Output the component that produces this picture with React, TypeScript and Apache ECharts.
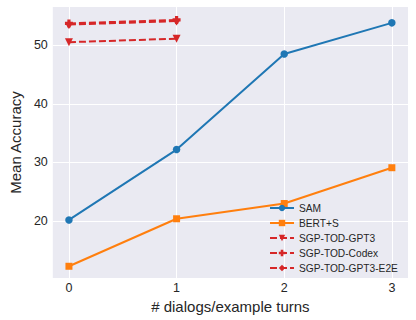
import React, { useEffect, useRef } from "react";
import * as echarts from "echarts";

const xTicks = [0, 1, 2, 3];
const yTicks = [20, 30, 40, 50];
const samX = [0, 1, 2, 3];
const samY = [20.2, 32.2, 48.5, 53.8];
const bertX = [0, 1, 2, 3];
const bertY = [12.3, 20.4, 23.0, 29.1];
const gpt3X = [0, 1];
const gpt3Y = [50.5, 51.1];
const codexX = [0, 1];
const codexY = [53.7, 54.3];
const e2eX = [0, 1];
const e2eY = [53.5, 54.1];

const PLUS = "path://M3,0 H7 V3 H10 V7 H7 V10 H3 V7 H0 V3 H3 Z";
const THIN_DIAMOND = "path://M3,0 L6,5 L3,10 L0,5 Z";

const zip = (xs: number[], ys: number[]) => xs.map((x, i) => [x, ys[i]]);

export default function App() {
  const ref = useRef<HTMLDivElement>(null);
  useEffect(() => {
    const chart = echarts.init(ref.current!, null, { renderer: "svg" });
    const font = "Liberation Sans, Arial, sans-serif";
    const blue = "#1f77b4";
    const orange = "#ff7f0e";
    const red = "#d62728";
    chart.setOption({
      animation: false,
      backgroundColor: "#ffffff",
      textStyle: { fontFamily: font },
      grid: {
        left: 44,
        right: 8,
        top: 7,
        bottom: 42,
        show: true,
        backgroundColor: "#eaeaf2",
        borderWidth: 0,
      },
      xAxis: {
        type: "value",
        min: -0.15,
        max: 3.15,
        name: "# dialogs/example turns",
        nameLocation: "middle",
        nameGap: 15,
        nameTextStyle: { fontSize: 15, color: "#262626", fontFamily: font },
        axisLine: { show: false },
        axisTick: { show: false, customValues: xTicks },
        axisLabel: {
          customValues: xTicks,
          fontSize: 12.5,
          color: "#262626",
          margin: 3,
          fontFamily: font,
        },
        splitLine: { show: true, lineStyle: { color: "#ffffff", width: 1 } },
      },
      yAxis: {
        type: "value",
        min: 10.3,
        max: 56.5,
        name: "Mean Accuracy",
        nameLocation: "middle",
        nameGap: 17,
        nameTextStyle: { fontSize: 15, color: "#262626", fontFamily: font },
        axisLine: { show: false },
        axisTick: { show: false, customValues: yTicks },
        axisLabel: {
          customValues: yTicks,
          fontSize: 12.5,
          color: "#262626",
          margin: 5,
          fontFamily: font,
        },
        splitLine: { show: true, lineStyle: { color: "#ffffff", width: 1 } },
      },
      legend: {
        orient: "vertical",
        left: 264,
        top: 198,
        itemWidth: 24,
        itemHeight: 8,
        itemGap: 5,
        textStyle: { fontSize: 10.2, color: "#262626", fontFamily: font },
        data: ["SAM", "BERT+S", "SGP-TOD-GPT3", "SGP-TOD-Codex", "SGP-TOD-GPT3-E2E"],
      },
      series: [
        {
          name: "SAM",
          type: "line",
          data: zip(samX, samY),
          color: blue,
          symbol: "circle",
          symbolSize: 7.5,
          lineStyle: { width: 2, color: blue },
          itemStyle: { color: blue },
        },
        {
          name: "BERT+S",
          type: "line",
          data: zip(bertX, bertY),
          color: orange,
          symbol: "rect",
          symbolSize: 7,
          lineStyle: { width: 2, color: orange },
          itemStyle: { color: orange },
        },
        {
          name: "SGP-TOD-GPT3",
          type: "line",
          data: zip(gpt3X, gpt3Y),
          color: red,
          symbol: "triangle",
          symbolRotate: 180,
          symbolSize: 8,
          lineStyle: { width: 2, type: [7, 3], color: red },
          itemStyle: { color: red },
        },
        {
          name: "SGP-TOD-Codex",
          type: "line",
          data: zip(codexX, codexY),
          color: red,
          symbol: PLUS,
          symbolSize: 8,
          lineStyle: { width: 2, type: [7, 3], color: red },
          itemStyle: { color: red },
        },
        {
          name: "SGP-TOD-GPT3-E2E",
          type: "line",
          data: zip(e2eX, e2eY),
          color: red,
          symbol: THIN_DIAMOND,
          symbolSize: [6, 9],
          lineStyle: { width: 2, type: [7, 3], color: red },
          itemStyle: { color: red },
        },
      ],
    });
    return () => chart.dispose();
  }, []);
  return (
    <div
      ref={ref}
      style={{ position: "fixed", left: 0, top: 0, width: 416, height: 320 }}
    />
  );
}
